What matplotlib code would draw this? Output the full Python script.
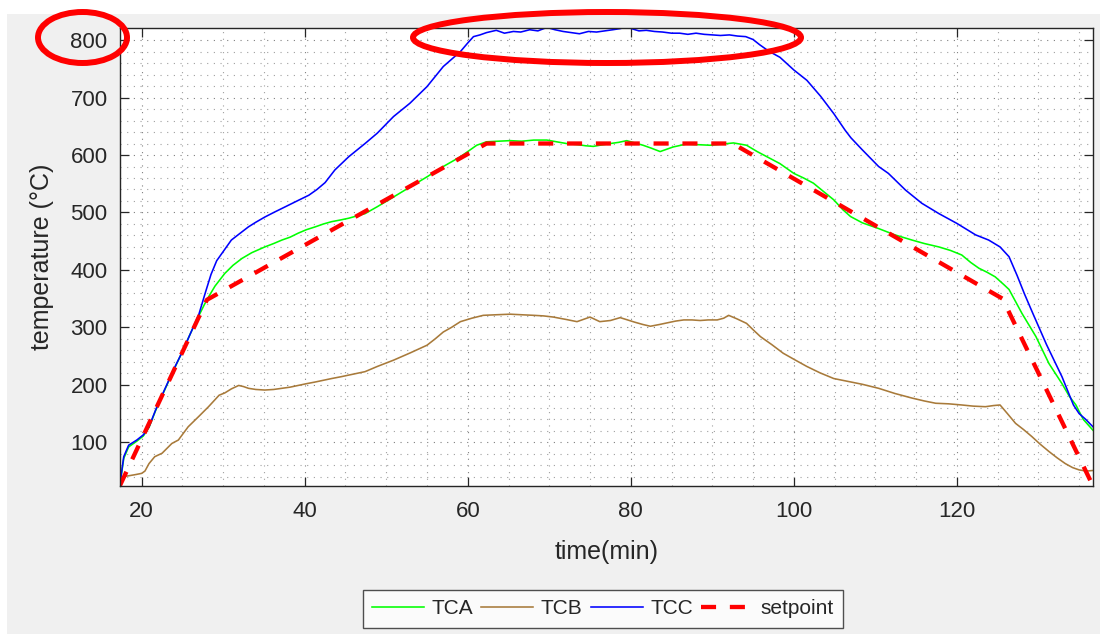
import numpy as np
import matplotlib
matplotlib.use("Agg")
import matplotlib.pyplot as plt
from matplotlib.patches import Ellipse, Rectangle

plt.rcParams['font.family'] = ['Liberation Sans', 'DejaVu Sans']

# thermocouple readings, time in minutes, temperature in deg C
tca_t = [17.34, 17.8, 18.4, 19.4, 20.2, 20.9, 21.7, 22.5, 23.9, 25.0, 26.0, 27.0, 27.7, 28.2,
         29.0, 30.2, 31.2, 32.3, 33.5, 35.1, 36.2, 37.2, 38.2, 39.2, 40.2, 41.3, 42.3, 43.3,
         44.4, 45.4, 46.4, 47.4, 48.9, 50.9, 53.0, 55.0, 57.0, 59.1, 60.1, 61.1, 62.3, 63.7,
         65.2, 66.6, 68.1, 69.7, 70.9, 72.1, 73.5, 74.5, 75.4, 76.2, 77.5, 78.5, 79.5, 80.5,
         81.5, 82.5, 83.6, 84.4, 85.2, 86.8, 88.2, 89.7, 91.2, 92.6, 94.2, 95.5, 96.7, 98.3,
         100.0, 101.2, 102.4, 103.6, 104.9, 106.0, 106.95, 108.4, 110.4, 112.4, 114.5, 116.0,
         117.8, 119.2, 120.6, 121.7, 122.7, 123.7, 124.7, 125.8, 126.4, 127.2, 128.0, 129.7,
         131.3, 132.9, 133.8, 134.6, 135.5, 136.7]
tca = [27, 72, 92, 102, 111, 126, 155, 181, 225, 258, 290, 320, 340, 353,
       372, 394, 408, 420, 430, 440, 446, 452, 457, 464, 470, 475, 480, 484,
       487, 490, 494, 498, 510, 527, 545, 562, 580, 597, 607, 617, 623, 624,
       625, 624, 626, 626, 623, 620, 618, 616, 615, 617, 620, 622, 625, 621,
       617, 612, 606, 610, 614, 619, 618, 617, 619, 621, 617, 606, 597, 585,
       568, 560, 551, 537, 522, 505, 493, 482, 472, 461, 452, 446,
       440, 434, 426, 413, 403, 396, 388, 374, 366, 345, 324, 284,
       237, 202, 180, 165, 140, 121]

tcb_t = [17.34, 17.6, 18.5, 19.3, 20.0, 20.4, 20.9, 21.6, 22.5, 23.7, 24.5, 25.7, 27.0, 28.2,
         29.5, 30.2, 31.0, 31.9, 32.5, 33.1, 34.0, 35.1, 36.2, 37.2, 38.2, 39.2, 40.2, 41.3,
         42.3, 43.3, 44.4, 45.4, 46.4, 47.4, 48.9, 50.9, 53.0, 55.0, 56.0, 57.0, 58.0, 59.1,
         60.5, 61.9, 63.5, 65.2, 66.6, 68.1, 69.3, 70.5, 72.0, 73.4, 74.2, 75.0, 76.2, 77.5,
         78.7, 79.6, 80.5, 81.5, 82.4, 83.5, 84.5, 85.5, 86.5, 87.5, 88.5, 89.5, 90.6, 91.4,
         92.0, 93.0, 94.2, 95.0, 95.9, 97.3, 98.7, 100.2, 101.6, 103.2, 104.9, 106.3, 108.4,
         110.4, 112.4, 114.5, 116.0, 117.4, 119.0, 120.6, 122.0, 123.5, 124.5, 125.3, 126.2,
         127.2, 128.2, 129.2, 130.2, 131.3, 132.3, 133.3, 134.2, 135.0, 135.9, 136.7]
tcb = [37, 40, 42, 44, 46, 50, 63, 75, 81, 98, 104, 127, 145, 162,
       182, 186, 193, 199, 197, 194, 192, 191, 192, 194, 196, 199, 202, 205,
       208, 211, 214, 217, 220, 223, 232, 243, 256, 269, 280, 292, 300, 310,
       316, 321, 322, 323, 322, 321, 320, 318, 314, 310, 314, 318, 310, 312,
       317, 313, 309, 305, 302, 305, 308, 311, 313, 313, 312, 313, 313, 316,
       321, 315, 307, 296, 284, 270, 255, 243, 232, 221, 211, 207, 201,
       194, 185, 177, 172, 168, 167, 165, 163, 162, 164, 165, 150,
       133, 122, 110, 97, 84, 73, 63, 56, 52, 50, 51]

tcc_t = [17.34, 17.8, 18.4, 19.4, 20.2, 20.9, 21.7, 22.5, 23.9, 25.0, 26.0, 27.0, 27.8, 28.5,
         29.2, 30.0, 31.0, 32.0, 33.1, 34.0, 35.1, 36.2, 37.2, 38.2, 39.2, 40.5, 41.5, 42.5,
         43.7, 45.4, 47.4, 48.9, 50.9, 52.9, 55.0, 57.0, 59.1, 60.0, 60.7, 61.5, 62.3, 63.5,
         64.5, 65.6, 66.5, 67.6, 68.6, 69.7, 70.7, 71.7, 72.7, 73.7, 74.8, 75.8, 76.8, 77.8,
         78.7, 79.5, 80.3, 81.0, 81.9, 82.9, 83.9, 85.0, 86.0, 87.0, 88.0, 89.0, 90.0, 91.0,
         92.1, 93.1, 94.1, 95.0, 95.8, 96.6, 97.4, 98.3, 100.0, 101.6, 103.3, 104.9, 106.3,
         107.0, 108.4, 110.4, 111.6, 113.7, 115.7, 117.8, 120.0, 122.3, 123.9, 125.3, 126.4,
         127.4, 128.3, 129.3, 131.0, 132.9, 134.3, 135.0, 135.8, 136.7]
tcc = [28, 75, 95, 104, 113, 127, 156, 182, 226, 258, 290, 322, 360, 392,
       416, 432, 452, 463, 475, 483, 492, 500, 507, 514, 521, 530, 540, 552,
       574, 597, 620, 638, 667, 690, 719, 754, 780, 795, 806, 809, 813, 817,
       812, 815, 814, 818, 816, 822, 818, 815, 813, 811, 815, 814, 816, 818,
       820, 823, 819, 816, 817, 815, 814, 812, 812, 810, 812, 810, 809, 808,
       809, 807, 806, 801, 792, 784, 777, 770, 748, 730, 702, 672, 643,
       630, 609, 580, 568, 539, 516, 498, 481, 461, 452, 440, 423,
       390, 358, 325, 270, 214, 165, 150, 140, 127]

# furnace program: ramp, hold, ramp down
setpoint_t = [17.34, 28.0, 62.3, 92.5, 125.6, 136.7]
setpoint = [25, 348, 620, 620, 350, 24]

xticks = [20, 40, 60, 80, 100, 120]
yticks = [100, 200, 300, 400, 500, 600, 700, 800]

dark = '#262626'

fig = plt.figure(figsize=(11, 6.34), dpi=100, facecolor='white')
fig.patches.append(Rectangle((7 / 1100, 0), 1093 / 1100, 620 / 634,
                             transform=fig.transFigure, facecolor='#f0f0f0',
                             edgecolor='none', zorder=-10))

ax = fig.add_axes([120 / 1100, 148 / 634, 973 / 1100, 457.7 / 634])
ax.set_facecolor('white')

ax.plot(tca_t, tca, color='#00ff00', lw=1.15, label='TCA')
ax.plot(tcb_t, tcb, color='#a87a3a', lw=1.15, label='TCB')
ax.plot(tcc_t, tcc, color='#0000ff', lw=1.15, label='TCC')
ax.plot(setpoint_t, setpoint, color='#ff0000', lw=3.1, dashes=(3.5, 3.2),
        label='setpoint')

ax.set_xlim(17.34, 136.7)
ax.set_ylim(24, 820.5)
ax.set_xticks(xticks)
ax.set_yticks(yticks)
ax.set_xticks(np.arange(20, 136, 5), minor=True)
ax.set_yticks(np.arange(40, 820, 20), minor=True)

ax.grid(which='major', color='#808080', linestyle=(0, (1, 5)), lw=0.8)
ax.grid(which='minor', color='#a0a0a0', linestyle=(0, (1, 5)), lw=0.8)
ax.set_axisbelow(True)

ax.tick_params(which='major', direction='in', length=6.5, width=0.9, color=dark,
               top=True, right=True, labelsize=16, labelcolor=dark)
ax.tick_params(axis='x', pad=11)
ax.tick_params(axis='y', pad=9)
ax.tick_params(which='minor', length=0)
for s in ax.spines.values():
    s.set_color(dark)
    s.set_linewidth(1.0)

ax.set_xlabel('time(min)', fontsize=18, color=dark, labelpad=13)
ax.set_ylabel('temperature (°C)', fontsize=18, color=dark, labelpad=12)

leg = fig.legend(loc='center', bbox_to_anchor=(603 / 1100, 25 / 634), ncol=4,
                 fontsize=15, frameon=True, fancybox=False, handlelength=2.5,
                 handletextpad=0.35, columnspacing=0.4, borderpad=0.45,
                 borderaxespad=0)
leg.get_frame().set_edgecolor(dark)
leg.get_frame().set_linewidth(1.0)
for txt in leg.get_texts():
    txt.set_color(dark)

# highlight marks
for cx, cy, w, h in [(82.5, 37.5, 89, 51), (607, 37.5, 388, 51)]:
    fig.patches.append(Ellipse((cx / 1100, 1 - cy / 634), w / 1100, h / 634,
                               transform=fig.transFigure, fill=False,
                               edgecolor='#ff0000', lw=4.3, zorder=20))

fig.savefig('out.png', dpi=100)
